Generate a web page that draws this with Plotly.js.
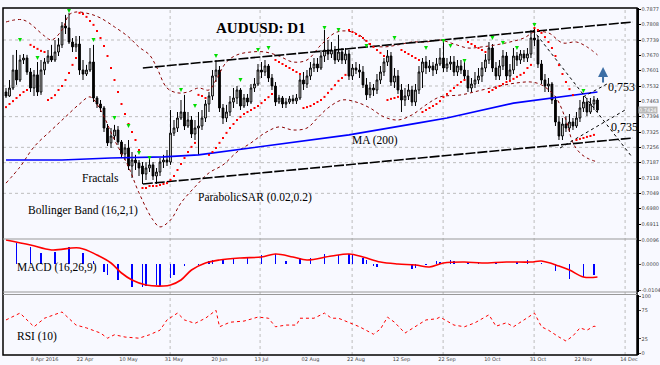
<!DOCTYPE html>
<html><head><meta charset="utf-8">
<script src="https://cdn.plot.ly/plotly-3.0.1.min.js"></script>
<style>html,body{margin:0;padding:0;background:#f8f9ff;}#c{width:660px;height:365px;}</style>
</head><body><div id="c"></div>
<script>
// ---- candles (bar index 0..169) ----
const openP = [0.7505,0.7487,0.7523,0.7604,0.7559,0.7649,0.7658,0.7595,0.7523,0.7582,0.7505,0.7604,0.7640,0.7667,0.7649,0.7685,0.7717,0.7802,0.7793,0.7730,0.7708,0.7721,0.7604,0.7586,0.7604,0.7640,0.7478,0.7451,0.7433,0.7343,0.7276,0.7307,0.7334,0.7280,0.7226,0.7253,0.7172,0.7199,0.7186,0.7172,0.7136,0.7163,0.7177,0.7127,0.7145,0.7190,0.7199,0.7190,0.7320,0.7343,0.7388,0.7415,0.7352,0.7379,0.7316,0.7343,0.7352,0.7388,0.7451,0.7487,0.7577,0.7604,0.7433,0.7388,0.7415,0.7460,0.7478,0.7514,0.7442,0.7478,0.7460,0.7523,0.7541,0.7604,0.7595,0.7622,0.7568,0.7532,0.7460,0.7478,0.7451,0.7460,0.7474,0.7465,0.7478,0.7559,0.7541,0.7577,0.7613,0.7631,0.7613,0.7667,0.7694,0.7676,0.7694,0.7649,0.7685,0.7649,0.7676,0.7577,0.7613,0.7604,0.7595,0.7537,0.7492,0.7523,0.7514,0.7559,0.7595,0.7640,0.7667,0.7550,0.7577,0.7514,0.7469,0.7487,0.7514,0.7460,0.7514,0.7595,0.7640,0.7613,0.7622,0.7604,0.7631,0.7658,0.7613,0.7631,0.7640,0.7595,0.7622,0.7604,0.7577,0.7523,0.7541,0.7559,0.7577,0.7613,0.7649,0.7703,0.7613,0.7577,0.7622,0.7667,0.7577,0.7604,0.7667,0.7649,0.7676,0.7658,0.7676,0.7748,0.7739,0.7631,0.7559,0.7532,0.7541,0.7469,0.7370,0.7307,0.7361,0.7343,0.7370,0.7352,0.7388,0.7433,0.7460,0.7415,0.7451,0.7469];
const highP = [0.7523,0.7559,0.7672,0.7694,0.7672,0.7676,0.7672,0.7613,0.7604,0.7640,0.7649,0.7658,0.7694,0.7717,0.7739,0.7748,0.7820,0.7852,0.7861,0.7748,0.7757,0.7757,0.7649,0.7627,0.7703,0.7717,0.7487,0.7469,0.7442,0.7361,0.7343,0.7357,0.7352,0.7289,0.7271,0.7289,0.7235,0.7222,0.7199,0.7190,0.7190,0.7208,0.7190,0.7163,0.7208,0.7222,0.7244,0.7424,0.7379,0.7415,0.7469,0.7492,0.7415,0.7397,0.7379,0.7415,0.7424,0.7469,0.7505,0.7604,0.7649,0.7622,0.7451,0.7447,0.7487,0.7523,0.7532,0.7523,0.7496,0.7496,0.7541,0.7568,0.7631,0.7640,0.7649,0.7631,0.7586,0.7550,0.7492,0.7487,0.7478,0.7487,0.7492,0.7496,0.7586,0.7595,0.7604,0.7640,0.7658,0.7658,0.7694,0.7784,0.7739,0.7730,0.7712,0.7762,0.7703,0.7703,0.7694,0.7631,0.7640,0.7631,0.7622,0.7568,0.7550,0.7541,0.7586,0.7622,0.7658,0.7694,0.7685,0.7613,0.7604,0.7541,0.7523,0.7541,0.7532,0.7541,0.7622,0.7658,0.7667,0.7649,0.7640,0.7658,0.7703,0.7730,0.7658,0.7667,0.7667,0.7649,0.7649,0.7640,0.7604,0.7568,0.7595,0.7613,0.7640,0.7676,0.7730,0.7721,0.7640,0.7649,0.7694,0.7685,0.7631,0.7703,0.7685,0.7694,0.7694,0.7703,0.7784,0.7793,0.7757,0.7649,0.7586,0.7568,0.7550,0.7487,0.7397,0.7388,0.7397,0.7406,0.7388,0.7415,0.7469,0.7487,0.7478,0.7478,0.7487,0.7478];
const lowP = [0.7478,0.7483,0.7514,0.7537,0.7550,0.7631,0.7582,0.7505,0.7487,0.7487,0.7492,0.7582,0.7631,0.7640,0.7640,0.7667,0.7703,0.7766,0.7721,0.7685,0.7685,0.7582,0.7559,0.7577,0.7595,0.7460,0.7433,0.7415,0.7325,0.7262,0.7253,0.7289,0.7267,0.7208,0.7199,0.7154,0.7118,0.7154,0.7127,0.7091,0.7109,0.7145,0.7109,0.7091,0.7127,0.7163,0.7172,0.7177,0.7307,0.7325,0.7379,0.7334,0.7343,0.7298,0.7289,0.7222,0.7334,0.7370,0.7415,0.7469,0.7550,0.7415,0.7361,0.7370,0.7397,0.7433,0.7451,0.7424,0.7433,0.7442,0.7451,0.7505,0.7532,0.7568,0.7577,0.7550,0.7514,0.7442,0.7451,0.7433,0.7433,0.7451,0.7451,0.7451,0.7469,0.7514,0.7523,0.7559,0.7595,0.7595,0.7604,0.7640,0.7649,0.7658,0.7631,0.7640,0.7631,0.7631,0.7559,0.7559,0.7586,0.7568,0.7523,0.7469,0.7478,0.7487,0.7496,0.7541,0.7577,0.7622,0.7532,0.7523,0.7496,0.7415,0.7442,0.7469,0.7442,0.7442,0.7496,0.7523,0.7586,0.7595,0.7577,0.7586,0.7622,0.7595,0.7595,0.7604,0.7577,0.7577,0.7586,0.7559,0.7505,0.7505,0.7523,0.7541,0.7550,0.7595,0.7631,0.7595,0.7559,0.7559,0.7604,0.7559,0.7559,0.7586,0.7622,0.7631,0.7640,0.7640,0.7658,0.7712,0.7613,0.7541,0.7505,0.7505,0.7451,0.7352,0.7289,0.7289,0.7325,0.7325,0.7334,0.7343,0.7370,0.7415,0.7397,0.7406,0.7424,0.7415];
const closeP = [0.7487,0.7523,0.7604,0.7559,0.7649,0.7658,0.7595,0.7523,0.7582,0.7505,0.7604,0.7640,0.7667,0.7649,0.7685,0.7717,0.7802,0.7793,0.7730,0.7708,0.7721,0.7604,0.7586,0.7604,0.7640,0.7478,0.7451,0.7433,0.7343,0.7276,0.7307,0.7334,0.7280,0.7226,0.7253,0.7172,0.7199,0.7186,0.7163,0.7136,0.7163,0.7177,0.7127,0.7145,0.7190,0.7199,0.7190,0.7320,0.7343,0.7388,0.7415,0.7352,0.7379,0.7316,0.7343,0.7352,0.7388,0.7451,0.7487,0.7577,0.7604,0.7433,0.7388,0.7415,0.7460,0.7478,0.7514,0.7442,0.7478,0.7460,0.7523,0.7541,0.7604,0.7595,0.7622,0.7568,0.7532,0.7460,0.7478,0.7451,0.7460,0.7474,0.7465,0.7478,0.7559,0.7541,0.7577,0.7613,0.7631,0.7613,0.7667,0.7694,0.7676,0.7694,0.7649,0.7685,0.7649,0.7676,0.7577,0.7613,0.7604,0.7595,0.7537,0.7492,0.7523,0.7514,0.7559,0.7595,0.7640,0.7667,0.7550,0.7577,0.7514,0.7469,0.7487,0.7514,0.7460,0.7514,0.7595,0.7640,0.7613,0.7622,0.7604,0.7631,0.7658,0.7613,0.7631,0.7640,0.7595,0.7622,0.7604,0.7577,0.7523,0.7541,0.7559,0.7577,0.7613,0.7649,0.7703,0.7613,0.7577,0.7622,0.7667,0.7577,0.7604,0.7667,0.7649,0.7676,0.7658,0.7676,0.7748,0.7739,0.7631,0.7559,0.7532,0.7541,0.7469,0.7370,0.7307,0.7361,0.7343,0.7370,0.7352,0.7388,0.7433,0.7460,0.7415,0.7451,0.7469,0.7424];

// ---- Parabolic SAR (one per bar) ----
const sarP = [0.7437,0.7451,0.7464,0.7478,0.7491,0.7505,0.7514,0.7717,0.7708,0.7699,0.7690,0.7685,0.7469,0.7478,0.7491,0.7514,0.7532,0.7559,0.7590,0.7627,0.7658,0.7861,0.7856,0.7843,0.7825,0.7807,0.7780,0.7748,0.7712,0.7667,0.7613,0.7559,0.7505,0.7451,0.7406,0.7361,0.7325,0.7289,0.7244,0.7073,0.7073,0.7082,0.7082,0.7082,0.7086,0.7091,0.7095,0.7109,0.7127,0.7154,0.7181,0.7208,0.7235,0.7258,0.7276,0.7492,0.7487,0.7478,0.7222,0.7235,0.7253,0.7276,0.7298,0.7321,0.7343,0.7361,0.7379,0.7393,0.7406,0.7415,0.7424,0.7433,0.7442,0.7455,0.7469,0.7482,0.7496,0.7649,0.7640,0.7631,0.7622,0.7613,0.7604,0.7595,0.7586,0.7433,0.7437,0.7442,0.7451,0.7460,0.7469,0.7483,0.7501,0.7518,0.7536,0.7555,0.7568,0.7582,0.7784,0.7775,0.7766,0.7757,0.7748,0.7735,0.7721,0.7708,0.7694,0.7681,0.7667,0.7469,0.7474,0.7478,0.7483,0.7694,0.7685,0.7676,0.7667,0.7658,0.7649,0.7415,0.7424,0.7433,0.7442,0.7451,0.7464,0.7482,0.7496,0.7510,0.7523,0.7536,0.7550,0.7559,0.7730,0.7721,0.7712,0.7703,0.7694,0.7685,0.7505,0.7514,0.7523,0.7532,0.7541,0.7550,0.7555,0.7564,0.7573,0.7582,0.7591,0.7613,0.7627,0.7793,0.7784,0.7771,0.7752,0.7730,0.7703,0.7667,0.7626,0.7586,0.7550,0.7518,0.7491,0.7289,0.7294,0.7298,0.7303,0.7307,0.7312];

// ---- Bollinger Band (16,2,1) ----
const bbUpIdx = [0,5,11,13,16,18,20,24,27,31,35,38,41,43,46,49,52,55,58,60,63,66,70,74,78,82,86,90,94,97,101,104,108,112,116,120,124,128,132,136,140,144,148,151,155,159,163,166,169];
const bbUpP = [0.7820,0.7829,0.7757,0.7739,0.7784,0.7852,0.7865,0.7856,0.7838,0.7798,0.7753,0.7707,0.7672,0.7618,0.7523,0.7501,0.7505,0.7523,0.7514,0.7559,0.7640,0.7672,0.7685,0.7685,0.7667,0.7640,0.7649,0.7717,0.7771,0.7780,0.7762,0.7717,0.7708,0.7717,0.7730,0.7730,0.7739,0.7721,0.7703,0.7708,0.7717,0.7730,0.7748,0.7775,0.7771,0.7726,0.7730,0.7708,0.7672];
const bbLoIdx = [0,4,8,13,17,21,24,27,31,35,38,42,44,47,50,54,58,62,66,70,74,78,82,86,89,92,96,100,104,108,112,116,120,124,130,136,141,146,150,153,157,160,162,164,166,169];
const bbLoP = [0.7095,0.7168,0.7258,0.7334,0.7393,0.7451,0.7483,0.7424,0.7289,0.7168,0.7051,0.6929,0.6898,0.6929,0.7006,0.7078,0.7141,0.7177,0.7235,0.7276,0.7321,0.7348,0.7334,0.7343,0.7388,0.7433,0.7469,0.7460,0.7433,0.7393,0.7379,0.7402,0.7447,0.7483,0.7492,0.7514,0.7532,0.7546,0.7550,0.7537,0.7483,0.7379,0.7276,0.7231,0.7208,0.7190];

// ---- MA (200) ----
const maIdx = [0,16,30,45,55,72,84,98,118,126,145,158,169];
const maP = [0.7199,0.7199,0.7208,0.7213,0.7222,0.7258,0.7280,0.7312,0.7366,0.7388,0.7455,0.7483,0.7505];

// ---- Fractals ----
const frIdx = [4,9,18,25,31,35,38,41,50,54,60,67,72,75,91,95,103,111,120,125,127,131,139,142,146,151,165];
const frP = [0.7730,0.7649,0.7861,0.7730,0.7379,0.7343,0.7222,0.7199,0.7505,0.7433,0.7658,0.7550,0.7685,0.7694,0.7784,0.7775,0.7703,0.7739,0.7694,0.7726,0.7703,0.7636,0.7739,0.7717,0.7694,0.7798,0.7501];

// ---- trend lines (bar index, price) ----
const chanUpIdx = [39.1,179.1], chanUpP = [0.7613,0.7820];
const chanLoIdx = [39.1,179.1], chanLoP = [0.7091,0.7298];
const triDownIdx = [150.6,178.9], triDownP = [0.7784,0.7212];
const triUpIdx = [158.3,176.9], triUpP = [0.7253,0.7424];
const lvlIdx = [164.9,171.7], lvlP = [0.7483,0.7541];
const levels = ['0,753','0,735'];
const levelP = [0.7528,0.7348];

// ---- MACD (16,26,9) ----
const histIdx = [3,7,10,14,18,22,25,28,29,32,36,39,40,43,44,47,48,51,55,58,59,62,65,69,73,77,80,84,87,91,95,98,99,102,103,105,106,110,116,117,120,123,124,127,128,132,135,140,146,149,153,157,161,165,168];
const histV = [0.0084,0.0068,0.0044,0.0048,0.0068,0.0044,0.0012,-0.0032,-0.0044,-0.0064,-0.0092,-0.0092,-0.0088,-0.0084,-0.0088,-0.0056,-0.0044,-0.0008,-0.0004,0.0012,0.0016,0.0020,0.0024,0.0024,0.0036,0.0040,0.0012,0.0024,0.0024,0.0040,0.0036,0.0040,0.0040,0.0024,0.0016,-0.0008,-0.0012,0.0004,-0.0020,-0.0016,-0.0004,0.0012,0.0008,0.0016,0.0012,0.0008,0.0004,0.0008,0.0008,0.0016,0.0004,-0.0028,-0.0060,-0.0052,-0.0044];
const sigIdx = [0,7,13,21,26,30,33,36,40,45,47,50,53,57,61,67,73,77,82,86,93,98,102,107,112,117,121,125,131,136,143,150,153,158,161,165,169];
const sigV = [0.0096,0.0076,0.0056,0.0064,0.0036,0.0004,-0.0036,-0.0064,-0.0084,-0.0088,-0.0084,-0.0064,-0.0024,0.0004,0.0016,0.0024,0.0028,0.0040,0.0028,0.0016,0.0032,0.0040,0.0028,0.0008,0.0000,-0.0004,-0.0012,0.0004,0.0008,0.0004,0.0008,0.0008,0.0012,-0.0008,-0.0024,-0.0052,-0.0052];

// ---- RSI (10) ----
const rsiIdx = [0,4,8,11,16,20,23,27,29,31,34,38,41,44,46,49,51,54,57,60,61,64,68,72,75,77,80,83,84,88,91,93,95,98,101,105,107,109,111,114,117,120,123,124,126,128,131,134,138,140,143,145,148,151,153,155,158,160,162,164,166,168,169];
const rsiV = [58,70,46,61,72,49,44,35,26,32,28,26,32,40,58,70,58,52,61,75,46,54,56,63,61,46,49,49,61,61,70,61,61,53,46,33,42,63,54,35,46,58,60,63,56,49,46,53,67,47,53,46,58,70,46,40,28,21,30,44,40,47,46];

// ---- axis ticks ----
const priceTicks = [0.7877,0.7808,0.7739,0.7670,0.7601,0.7532,0.7463,0.7394,0.7325,0.7256,0.7187,0.7118,0.7049,0.6980,0.6911];
const gridPrices = [0.7739,0.7532,0.7394,0.7256,0.7187,0.7049];
const macdTicks = [0.0096,0.0000,-0.0104];
const macdTickText = ['0.0096','0.0000','-0.0104'];
const rsiTicks = [100,75,25,0];
const dateIdx = [11,22.6,35,48,61,73,87,100,113,126,139,152,165,178];
const dateText = ['8 Apr 2016','22 Apr','10 May','31 May','20 Jun','13 Jul','02 Aug','22 Aug','12 Sep','22 Sep','10 Oct','31 Oct','22 Nov','14 Dec'];
const gridIdx = [46.9,72.6,98.9,124.9,150.9,176.9];
const lastPrice = 0.7424;

// ---------------------------------------------------------
const DR = '#8b0000';
const traces = [];
traces.push({type:'scatter',mode:'lines',x:bbUpIdx,y:bbUpP,line:{color:DR,width:1,dash:'dot',shape:'spline'},hoverinfo:'skip'});
traces.push({type:'scatter',mode:'lines',x:bbLoIdx,y:bbLoP,line:{color:DR,width:1,dash:'dot',shape:'spline'},hoverinfo:'skip'});
traces.push({type:'scatter',mode:'lines',x:maIdx,y:maP,line:{color:'#0000ff',width:1.6},hoverinfo:'skip'});
traces.push({type:'scatter',mode:'lines',x:chanUpIdx,y:chanUpP,line:{color:'#000',width:1.6,dash:'10px,2px'}});
traces.push({type:'scatter',mode:'lines',x:chanLoIdx,y:chanLoP,line:{color:'#000',width:1.6,dash:'10px,2px'}});
traces.push({type:'scatter',mode:'lines',x:triDownIdx,y:triDownP,line:{color:'#000',width:1,dash:'dot'}});
traces.push({type:'scatter',mode:'lines',x:triUpIdx,y:triUpP,line:{color:'#000',width:1,dash:'dot'}});
traces.push({type:'scatter',mode:'lines',x:lvlIdx,y:lvlP,line:{color:'#000',width:1,dash:'dot'}});
traces.push({type:'candlestick',x:closeP.map((_,i)=>i),open:openP,high:highP,low:lowP,close:closeP,
  increasing:{line:{color:'#000',width:1},fillcolor:'#ffffff'},
  decreasing:{line:{color:'#000',width:1},fillcolor:'#000000'},whiskerwidth:0,hoverinfo:'skip'});
traces.push({type:'scatter',mode:'markers',x:sarP.map((_,i)=>i),y:sarP,marker:{symbol:'square',size:2,color:'#ff0000'}});
traces.push({type:'scatter',mode:'markers',x:frIdx,y:frP,marker:{symbol:'arrow-down',size:4,color:'#00dd00',line:{width:0}}});
// MACD
traces.push({type:'bar',x:histIdx,y:histV,yaxis:'y2',width:0.35,marker:{color:'#0000ff',line:{width:0}}});
traces.push({type:'scatter',mode:'lines',x:sigIdx,y:sigV,yaxis:'y2',line:{color:'#ff0000',width:1.6,shape:'spline'}});
// RSI
traces.push({type:'scatter',mode:'lines',x:rsiIdx,y:rsiV,yaxis:'y3',line:{color:'#ff0000',width:1,dash:'dot'}});

const T = 8, B = 355, L = 3, R = 637, H = B - T;
const py = p => (B - p) / H;
const px = p => (p - L) / (R - L);
const serif = 'Liberation Serif, Times New Roman, serif';
const small = {family:'DejaVu Sans, Arial',size:5,color:'#444'};

const shapes = [];
gridPrices.forEach(g=>shapes.push({type:'line',xref:'paper',yref:'y',x0:0,x1:1,y0:g,y1:g,line:{color:'#bdbdbd',width:1,dash:'dot'},layer:'below'}));
gridIdx.forEach(g=>shapes.push({type:'line',xref:'x',yref:'paper',x0:g,x1:g,y0:0,y1:1,line:{color:'#bdbdbd',width:1,dash:'dot'},layer:'below'}));
shapes.push({type:'rect',xref:'paper',yref:'paper',x0:0,x1:1,y0:0,y1:1,line:{color:'#000',width:1.5}});
shapes.push({type:'line',xref:'paper',yref:'paper',x0:0,x1:1,y0:py(239),y1:py(239),line:{color:'#999',width:1}});
shapes.push({type:'line',xref:'paper',yref:'paper',x0:0,x1:1,y0:py(292),y1:py(292),line:{color:'#999',width:1}});
shapes.push({type:'line',xref:'paper',yref:'paper',x0:0,x1:1,y0:py(294.5),y1:py(294.5),line:{color:'#999',width:1}});

const ann = [
 {text:'<b>AUDUSD: D1</b>',xref:'paper',yref:'paper',x:px(261),y:py(18),showarrow:false,font:{family:serif,size:15,color:'#000'}},
 {text:'MA (200)',xref:'paper',yref:'paper',x:px(350),y:py(141),xanchor:'left',showarrow:false,font:{family:serif,size:11.5,color:'#000'}},
 {text:'Fractals',xref:'paper',yref:'paper',x:px(80),y:py(178),xanchor:'left',showarrow:false,font:{family:serif,size:11.5,color:'#000'}},
 {text:'ParabolicSAR (0.02,0.2)',xref:'paper',yref:'paper',x:px(196),y:py(197),xanchor:'left',showarrow:false,font:{family:serif,size:11.5,color:'#000'}},
 {text:'Bollinger Band (16,2,1)',xref:'paper',yref:'paper',x:px(26),y:py(210),xanchor:'left',showarrow:false,font:{family:serif,size:11.5,color:'#000'}},
 {text:'MACD (16,26,9)',xref:'paper',yref:'paper',x:px(15),y:py(276),xanchor:'left',showarrow:false,font:{family:serif,size:11.5,color:'#000'}},
 {text:'RSI (10)',xref:'paper',yref:'paper',x:px(15),y:py(345),xanchor:'left',showarrow:false,font:{family:serif,size:11.5,color:'#000'}},
 {text:levels[0],xref:'x',yref:'y',x:171.5,y:levelP[0],xanchor:'left',showarrow:false,font:{family:serif,size:12,color:'#000'}},
 {text:levels[1],xref:'x',yref:'y',x:172.2,y:levelP[1],xanchor:'left',showarrow:false,font:{family:serif,size:12,color:'#000'}},
 {text:'',xref:'x',yref:'y',x:170.6,y:0.7617,ax:0,ay:17,showarrow:true,arrowhead:2,arrowsize:1,arrowwidth:2,arrowcolor:'#3d6fa6'},
 {text:lastPrice.toFixed(4),xref:'paper',yref:'y',x:1,y:lastPrice,xanchor:'left',xshift:1,showarrow:false,bgcolor:'#b8b8b8',borderpad:0,font:{family:'DejaVu Sans, Arial',size:5,color:'#fff'}}
];

const layout = {
  width:660,height:365,margin:{l:L,r:660-R,t:T,b:365-B},
  paper_bgcolor:'#f8f9ff',plot_bgcolor:'#f8f9ff',showlegend:false,bargap:0,
  xaxis:{range:[-0.86,180.3],anchor:'y3',rangeslider:{visible:false},showgrid:false,zeroline:false,
    tickmode:'array',tickvals:dateIdx,ticktext:dateText,tickfont:small,ticks:'',ticklen:0,showline:false},
  yaxis:{domain:[py(239),1],range:[0.68435,0.7883],side:'right',showgrid:false,zeroline:false,
    tickmode:'array',tickvals:priceTicks,ticktext:priceTicks.map(v=>v.toFixed(4)),tickfont:small,ticks:'outside',ticklen:2,tickcolor:'#000',showline:true,linecolor:'#000',linewidth:1.5},
  yaxis2:{domain:[py(292),py(239)],range:[-0.0112,0.0100],side:'right',anchor:'x',showgrid:false,zeroline:false,
    tickmode:'array',tickvals:macdTicks,ticktext:macdTickText,tickfont:small,ticks:'outside',ticklen:2,showline:true,linecolor:'#000',linewidth:1.5},
  yaxis3:{domain:[0,py(295)],range:[-3.5,101.75],side:'right',anchor:'x',showgrid:false,zeroline:false,
    tickmode:'array',tickvals:rsiTicks,ticktext:rsiTicks.map(String),tickfont:small,ticks:'outside',ticklen:2,showline:true,linecolor:'#000',linewidth:1.5},
  shapes:shapes,annotations:ann
};
Plotly.newPlot('c',traces,layout,{staticPlot:true,displayModeBar:false});
</script></body></html>
